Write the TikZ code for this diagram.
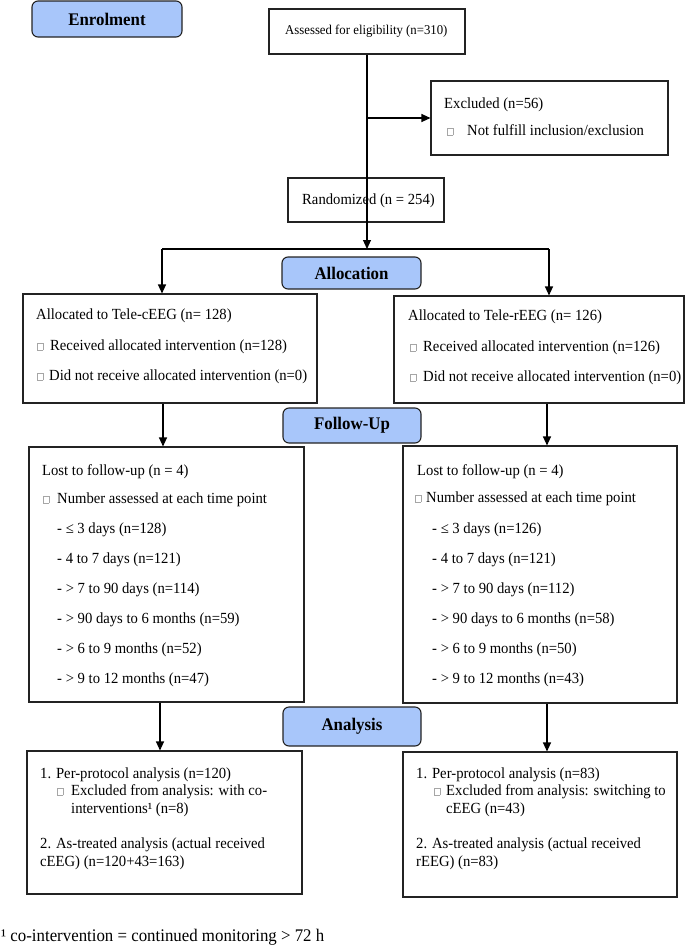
\documentclass[tikz,border=0pt]{standalone}
\usepackage{fontspec}
\setmainfont{Liberation Serif}[FakeStretch=0.95]
\usetikzlibrary{arrows.meta}
\definecolor{stageblue}{RGB}{168,198,250}
\definecolor{edgecol}{RGB}{35,35,35}
\newcommand\bul{{\color{black!35}\setlength\fboxsep{0pt}\setlength\fboxrule{0.5pt}\fbox{\rule{0pt}{7bp}\rule{5bp}{0pt}}}}
\newcommand\mkbox[5]{\node[box, minimum width={(#4-#2)*1bp}, minimum height={(#5-#3)*1bp}] (#1) at ({(#2+#4)/2},{(#3+#5)/2}) {};}
\newcommand\mkstage[6]{\node[stage, minimum width={(#4-#2)*1bp}, minimum height={(#5-#3)*1bp}] (#1) at ({(#2+#4)/2},{(#3+#5)/2}) {#6};}
\newcommand\lineat[4]{\node[txt] (#1) at (#2,#3) {#4};}
\begin{document}
\begin{tikzpicture}[x=1bp,y=-1bp,
  box/.style={draw=edgecol, line width=1.1bp, rectangle, inner sep=0pt, fill=white},
  stage/.style={draw=edgecol, line width=1.1bp, fill=stageblue, rounded corners=6bp, inner sep=0pt, font=\bfseries\fontsize{17.8}{20}\selectfont},
  txt/.style={anchor=base west, inner sep=0pt, font=\fontsize{15.5}{18}\selectfont},
  arr/.style={-{Triangle[length=9bp,width=8bp]}, line width=1.1bp, draw=black},
  conn/.style={line width=1.1bp, draw=black}]
\useasboundingbox (0,0) rectangle (685,945);

% stage labels
\mkstage{enrol}{32}{1}{182}{37}{Enrolment}
\mkstage{alloc}{282}{257}{421}{289}{Allocation}
\mkstage{follow}{283}{408}{421}{443}{Follow-Up}
\mkstage{analysis}{283}{707}{421}{746}{Analysis}

% boxes
\mkbox{assess}{269}{9}{465}{54}
\mkbox{excl}{431}{81}{668}{155}
\mkbox{rand}{288}{178}{444}{222}
\mkbox{allocL}{23}{294}{317}{403}
\mkbox{allocR}{394}{296}{684}{403}
\mkbox{followL}{29}{447}{304}{702}
\mkbox{followR}{403}{446}{677}{703}
\mkbox{anaL}{27}{751}{302}{894}
\mkbox{anaR}{403}{752}{677}{897}

% top texts
\node[txt, font=\fontsize{13.5}{16}\selectfont] (tassess) at (285,34) {Assessed for eligibility (n=310)};
\lineat{texcl1}{444}{108}{Excluded (n=56)}
\node[txt] (bexcl) at (447,135) {\bul};
\lineat{texcl2}{467}{135}{Not fulfill inclusion/exclusion}
\lineat{trand}{302}{204}{Randomized (n = 254)}

% allocation texts
\lineat{taL1}{36}{319}{Allocated to Tele-cEEG (n= 128)}
\node[txt] (baL2) at (37,350) {\bul};
\lineat{taL2}{50}{350}{Received allocated intervention (n=128)}
\node[txt] (baL3) at (37,380) {\bul};
\lineat{taL3}{49}{380}{Did not receive allocated intervention (n=0)}

\lineat{taR1}{408}{320}{Allocated to Tele-rEEG (n= 126)}
\node[txt] (baR2) at (410,351) {\bul};
\lineat{taR2}{423}{351}{Received allocated intervention (n=126)}
\node[txt] (baR3) at (410,381) {\bul};
\lineat{taR3}{423}{381}{Did not receive allocated intervention (n=0)}

% follow-up texts
\lineat{tfL0}{42}{475}{Lost to follow-up (n = 4)}
\node[txt] (bfL) at (43,503) {\bul};
\lineat{tfL1}{57}{503}{Number assessed at each time point}
\lineat{tfL2}{57}{533}{- ≤ 3 days (n=128)}
\lineat{tfL3}{57}{563}{- 4 to 7 days (n=121)}
\lineat{tfL4}{57}{593}{- > 7 to 90 days (n=114)}
\lineat{tfL5}{57}{623}{- > 90 days to 6 months (n=59)}
\lineat{tfL6}{57}{653}{- > 6 to 9 months (n=52)}
\lineat{tfL7}{57}{683}{- > 9 to 12 months (n=47)}

\lineat{tfR0}{417}{475}{Lost to follow-up (n = 4)}
\node[txt] (bfR) at (415,502) {\bul};
\lineat{tfR1}{426}{502}{Number assessed at each time point}
\lineat{tfR2}{432}{533}{- ≤ 3 days (n=126)}
\lineat{tfR3}{432}{563}{- 4 to 7 days (n=121)}
\lineat{tfR4}{432}{593}{- > 7 to 90 days (n=112)}
\lineat{tfR5}{432}{623}{- > 90 days to 6 months (n=58)}
\lineat{tfR6}{432}{653}{- > 6 to 9 months (n=50)}
\lineat{tfR7}{432}{683}{- > 9 to 12 months (n=43)}

% analysis texts
\lineat{tnL1}{40}{778}{1. Per-protocol analysis (n=120)}
\node[txt] (bnL) at (57,795) {\bul};
\lineat{tnL2}{71}{795}{Excluded from analysis: with co-}
\lineat{tnL3}{71}{813}{interventions¹ (n=8)}
\lineat{tnL4}{40}{848}{2. As-treated analysis (actual received}
\lineat{tnL5}{40}{866}{cEEG) (n=120+43=163)}

\lineat{tnR1}{416}{778}{1. Per-protocol analysis (n=83)}
\node[txt] (bnR) at (434,795) {\bul};
\lineat{tnR2}{446}{795}{Excluded from analysis: switching to}
\lineat{tnR3}{446}{813}{cEEG (n=43)}
\lineat{tnR4}{416}{848}{2. As-treated analysis (actual received}
\lineat{tnR5}{416}{866}{rEEG) (n=83)}

% footnote
\node[txt, font=\fontsize{17.8}{20}\selectfont] (foot) at (1,941) {¹ co-intervention = continued monitoring > 72 h};

% connectors
\coordinate (sL) at (162,249);
\coordinate (sR) at (549,249);
\coordinate (split) at (assess.south |- sL);
\coordinate (fL) at (163,0);
\coordinate (fR) at (547,0);
\coordinate (nL) at (160,0);
\coordinate (nR) at (547,0);
\draw[arr] (assess.south) -- (split);
\draw[arr] (assess.south |- excl.west) -- (excl.west);
\draw[conn] (sL) -- (sR);
\draw[arr] (sL) -- (sL |- allocL.north);
\draw[arr] (sR) -- (sR |- allocR.north);
\draw[arr] (fL |- allocL.south) -- (fL |- followL.north);
\draw[arr] (fR |- allocR.south) -- (fR |- followR.north);
\draw[arr] (nL |- followL.south) -- (nL |- anaL.north);
\draw[arr] (nR |- followR.south) -- (nR |- anaR.north);
\end{tikzpicture}
\end{document}
